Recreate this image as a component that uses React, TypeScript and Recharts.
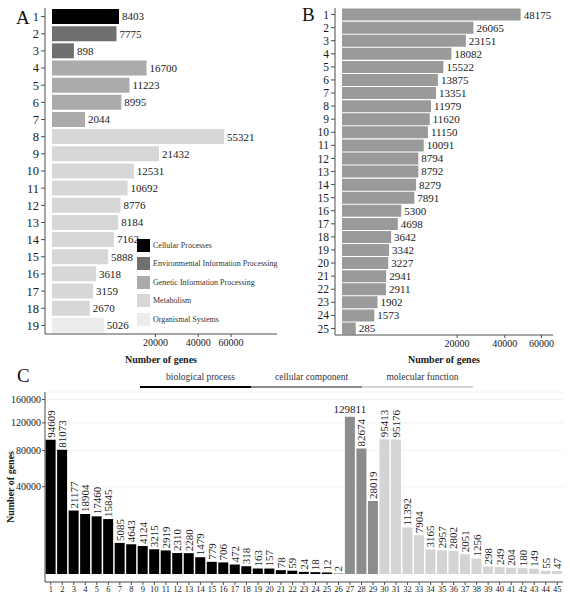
import React from "react";
import {
  BarChart,
  Bar,
  XAxis,
  YAxis,
  Cell,
  LabelList,
  Legend,
  CartesianGrid,
} from "recharts";

const FONT = "'Liberation Serif', 'Times New Roman', serif";
const BORDER = "#4d4d4d";
const TEXT = "#1a1a1a";

// panel A: KEGG classes
const A_CATS = ["1", "2", "3", "4", "5", "6", "7", "8", "9", "10", "11", "12", "13", "14", "15", "16", "17", "18", "19"];
const A_VALUES = [8403, 7775, 898, 16700, 11223, 8995, 2044, 55321, 21432, 12531, 10692, 8776, 8184, 7162, 5888, 3618, 3159, 2670, 5026];
const A_GROUP = [0, 1, 1, 2, 2, 2, 2, 3, 3, 3, 3, 3, 3, 3, 3, 3, 3, 3, 4];
const A_GROUPS = [
  "Cellular Processes",
  "Environmental Information Processing",
  "Genetic Information Processing",
  "Metabolism",
  "Organismal Systems",
];
const A_COLORS = ["#000000", "#707070", "#ababab", "#d7d7d7", "#ececec"];
const A_TICKS = [20000, 40000, 60000];

// panel B: KOG classes
const B_CATS = ["1", "2", "3", "4", "5", "6", "7", "8", "9", "10", "11", "12", "13", "14", "15", "16", "17", "18", "19", "20", "21", "22", "23", "24", "25"];
const B_VALUES = [48175, 26065, 23151, 18082, 15522, 13875, 13351, 11979, 11620, 11150, 10091, 8794, 8792, 8279, 7891, 5300, 4698, 3642, 3342, 3227, 2941, 2911, 1902, 1573, 285];
const B_COLOR = "#9a9a9a";
const B_TICKS = [20000, 40000, 60000];

// panel C: GO terms
const C_CATS = Array.from({ length: 45 }, (_, i) => String(i + 1));
const C_VALUES = [
  94609, 81073, 21177, 18904, 17460, 15845, 5085, 4643, 4124, 3215, 2919, 2310, 2280, 1479, 779, 706, 472, 318, 163, 157, 78, 59, 24, 18, 12,
  2, 129811, 82674, 28019,
  95413, 95176, 11392, 7904, 3165, 2957, 2802, 2051, 1256, 298, 249, 204, 180, 149, 55, 47,
];
const C_GROUP = [
  0, 0, 0, 0, 0, 0, 0, 0, 0, 0, 0, 0, 0, 0, 0, 0, 0, 0, 0, 0, 0, 0, 0, 0, 0,
  1, 1, 1, 1,
  2, 2, 2, 2, 2, 2, 2, 2, 2, 2, 2, 2, 2, 2, 2, 2,
];
const C_GROUPS = ["biological process", "cellular component", "molecular function"];
const C_COLORS = ["#000000", "#8c8c8c", "#d4d4d4"];
const C_TICKS = [40000, 80000, 120000, 160000];
const C_FLAT = ["27"];

const aData = A_CATS.map((name, i) => ({ name, value: A_VALUES[i], group: A_GROUP[i] }));
const bData = B_CATS.map((name, i) => ({ name, value: B_VALUES[i] }));
const cData = C_CATS.map((name, i) => ({ name, value: C_VALUES[i], group: C_GROUP[i] }));

const KeggLegend = () => (
  <div style={{ fontFamily: FONT, fontSize: 8, color: "#333" }}>
    {A_GROUPS.map((g, i) => (
      <div key={g} style={{ display: "flex", alignItems: "center", height: 18.5 }}>
        <span style={{ width: 13, height: 13, background: A_COLORS[i], marginRight: 3, display: "inline-block" }} />
        <span style={{ whiteSpace: "nowrap" }}>{g}</span>
      </div>
    ))}
  </div>
);

const GoLegend = () => (
  <div style={{ display: "flex", fontFamily: FONT, fontSize: 9.5, color: "#333" }}>
    {C_GROUPS.map((g, i) => (
      <div key={g} style={{ width: 111 }}>
        <div style={{ textAlign: "center", paddingLeft: 10, lineHeight: "12px", whiteSpace: "nowrap" }}>{g}</div>
        <div style={{ height: 2, background: C_COLORS[i], marginTop: 3 }} />
      </div>
    ))}
  </div>
);

const GoLabel = (props: any) => {
  const { x, y, width, value, index } = props;
  const cx = Number(x) + Number(width) / 2;
  const top = Number(y);
  if (C_FLAT.includes(C_CATS[index])) {
    return (
      <text x={cx} y={top - 4} textAnchor="middle" fontSize={11} fontFamily={FONT} fill={TEXT}>
        {value}
      </text>
    );
  }
  return (
    <text
      x={cx}
      y={top - 2}
      transform={`rotate(-90 ${cx} ${top - 2})`}
      textAnchor="start"
      dominantBaseline="central"
      fontSize={11}
      fontFamily={FONT}
      fill={TEXT}
    >
      {value}
    </text>
  );
};

const YTitle = (props: any) => {
  const vb = props.viewBox || {};
  const x = (vb.x || 0) + 10;
  const y = (vb.y || 0) + (vb.height || 0) / 2;
  return (
    <text
      x={x}
      y={y}
      transform={`rotate(-90 ${x} ${y})`}
      textAnchor="middle"
      dominantBaseline="central"
      fontSize={10}
      fontWeight="bold"
      fontFamily={FONT}
      fill={TEXT}
    >
      Number of genes
    </text>
  );
};

const panelLetter = (left: number, top: number): React.CSSProperties => ({
  position: "absolute",
  left,
  top,
  fontFamily: FONT,
  fontSize: 19,
  lineHeight: "20px",
  color: "#111",
});

const xTitle = {
  value: "Number of genes",
  position: "insideBottom" as const,
  offset: 3,
  fontSize: 10,
  fontWeight: "bold",
  fontFamily: FONT,
  fill: TEXT,
};

export default function App() {
  return (
    <div
      style={{
        position: "absolute",
        left: 0,
        top: 0,
        width: 570,
        height: 600,
        background: "#fff",
        overflow: "hidden",
      }}
    >
      <div style={{ position: "absolute", left: 0, top: 0 }}>
        <BarChart
          width={285}
          height={366}
          data={aData}
          layout="vertical"
          margin={{ top: 8, right: 8, bottom: 0, left: 0 }}
          barCategoryGap={1}
        >
          <XAxis
            type="number"
            dataKey="value"
            scale="sqrt"
            domain={[0, 94700]}
            ticks={A_TICKS}
            padding={{ left: 7, right: 0 }}
            height={32}
            tickSize={3}
            tick={{ fontSize: 10, fontFamily: FONT, fill: TEXT }}
            axisLine={{ stroke: BORDER }}
            tickLine={{ stroke: BORDER }}
            label={xTitle}
          />
          <XAxis xAxisId="top" orientation="top" type="number" domain={[0, 1]} height={0} tick={false} tickLine={false} axisLine={{ stroke: BORDER }} />
          <YAxis
            type="category"
            dataKey="name"
            width={45}
            interval={0}
            tickSize={4}
            tickMargin={2}
            tick={{ fontSize: 12.5, fontFamily: FONT, fill: TEXT }}
            axisLine={{ stroke: BORDER }}
            tickLine={{ stroke: BORDER }}
          />
          <YAxis yAxisId="right" orientation="right" width={0} tick={false} tickLine={false} axisLine={{ stroke: BORDER }} />
          <Legend
            layout="vertical"
            align="center"
            verticalAlign="middle"
            content={() => <KeggLegend />}
            wrapperStyle={{ left: 137, top: 236, width: "auto" }}
          />
          <Bar dataKey="value" isAnimationActive={false}>
            {aData.map((d) => (
              <Cell key={d.name} fill={A_COLORS[d.group]} />
            ))}
            <LabelList dataKey="value" position="right" offset={3} fontSize={11} fontFamily={FONT} fill={TEXT} />
          </Bar>
        </BarChart>
      </div>

      <div style={{ position: "absolute", left: 290, top: 0 }}>
        <BarChart
          width={280}
          height={366}
          data={bData}
          layout="vertical"
          margin={{ top: 8, right: 17, bottom: 0, left: 0 }}
          barCategoryGap={0.6}
        >
          <XAxis
            type="number"
            dataKey="value"
            scale="sqrt"
            domain={[0, 67200]}
            ticks={B_TICKS}
            padding={{ left: 7, right: 0 }}
            height={31}
            tickSize={3}
            tick={{ fontSize: 10, fontFamily: FONT, fill: TEXT }}
            axisLine={{ stroke: BORDER }}
            tickLine={{ stroke: BORDER }}
            label={xTitle}
          />
          <XAxis xAxisId="top" orientation="top" type="number" domain={[0, 1]} height={0} tick={false} tickLine={false} axisLine={{ stroke: BORDER }} />
          <YAxis
            type="category"
            dataKey="name"
            width={45}
            interval={0}
            tickSize={4}
            tickMargin={2}
            tick={{ fontSize: 11.5, fontFamily: FONT, fill: TEXT }}
            axisLine={{ stroke: BORDER }}
            tickLine={{ stroke: BORDER }}
          />
          <YAxis yAxisId="right" orientation="right" width={0} tick={false} tickLine={false} axisLine={{ stroke: BORDER }} />
          <Bar dataKey="value" fill={B_COLOR} isAnimationActive={false}>
            <LabelList dataKey="value" position="right" offset={3} fontSize={11} fontFamily={FONT} fill={TEXT} />
          </Bar>
        </BarChart>
      </div>

      <div style={{ position: "absolute", left: 0, top: 365 }}>
        <BarChart
          width={570}
          height={235}
          data={cData}
          margin={{ top: 27, right: 7, bottom: 0, left: 0 }}
          barCategoryGap={0.6}
        >
          <CartesianGrid vertical={false} stroke="#f2f2f2" />
          <XAxis
            dataKey="name"
            interval={0}
            height={18}
            tickSize={3}
            tickMargin={1}
            tick={{ fontSize: 8.5, fontFamily: FONT, fill: TEXT }}
            axisLine={{ stroke: BORDER }}
            tickLine={{ stroke: BORDER }}
          />
          <XAxis xAxisId="top" orientation="top" height={0} tick={false} tickLine={false} axisLine={{ stroke: BORDER }} />
          <YAxis
            type="number"
            scale="sqrt"
            domain={[0, 174000]}
            ticks={C_TICKS}
            padding={{ top: 0, bottom: 8 }}
            width={45}
            tickSize={3}
            tickMargin={1}
            tick={{ fontSize: 10, fontFamily: FONT, fill: TEXT }}
            axisLine={{ stroke: BORDER }}
            tickLine={{ stroke: BORDER }}
            label={<YTitle />}
          />
          <YAxis yAxisId="right" orientation="right" type="number" domain={[0, 1]} width={0} tick={false} tickLine={false} axisLine={{ stroke: BORDER }} />
          <Legend
            layout="horizontal"
            align="center"
            verticalAlign="middle"
            content={() => <GoLegend />}
            wrapperStyle={{ left: 140, top: 6, width: "auto" }}
          />
          <Bar dataKey="value" isAnimationActive={false}>
            {cData.map((d) => (
              <Cell key={d.name} fill={C_COLORS[d.group]} />
            ))}
            <LabelList dataKey="value" content={GoLabel} />
          </Bar>
        </BarChart>
      </div>

      <div style={panelLetter(16, 8)}>A</div>
      <div style={panelLetter(302, 5)}>B</div>
      <div style={panelLetter(17, 366)}>C</div>
    </div>
  );
}
